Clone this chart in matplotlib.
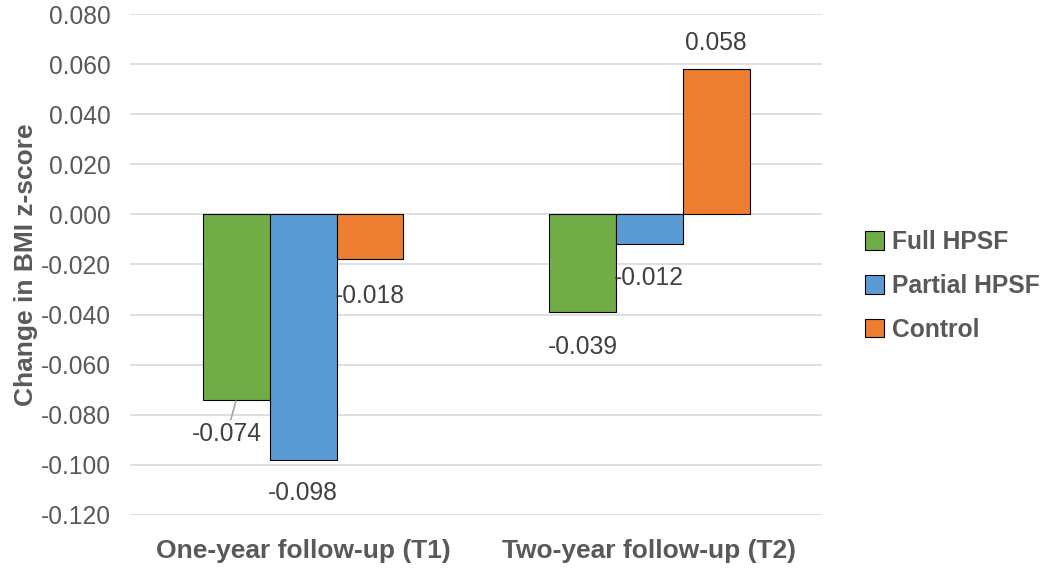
import matplotlib.pyplot as plt
import numpy as np

plt.rcParams["font.family"] = ["Liberation Sans", "DejaVu Sans"]

categories = ["One-year follow-up (T1)", "Two-year follow-up (T2)"]
groups = ["Full HPSF", "Partial HPSF", "Control"]
full_hpsf = [-0.074, -0.039]
partial_hpsf = [-0.098, -0.012]
control = [-0.018, 0.058]
yticks = np.arange(-0.12, 0.0801, 0.02)

series = [full_hpsf, partial_hpsf, control]
colors = ["#70ad47", "#5b9bd5", "#ed7d31"]
# label offsets (points) from the end of each bar
offsets = [[(-7, -25), (0, -25)], [(0, -24), (0, -24)], [(0, -26), (0, 19)]]

fig = plt.figure(figsize=(10.53, 5.74), dpi=100)
ax = fig.add_axes([0.1235, 0.1028, 0.6575, 0.8728])

x = np.arange(len(categories))
width = 0.193
for i, (vals, col, name) in enumerate(zip(series, colors, groups)):
    pos = x + (i - 1) * width
    ax.bar(pos, vals, width, color=col, edgecolor="black", linewidth=0.8,
           label=name, zorder=3)
    for j, v in enumerate(vals):
        dx, dy = offsets[i][j]
        arrow = None
        if i == 0 and j == 0:
            arrow = dict(arrowstyle="-", color="#a6a6a6", lw=1.2,
                         shrinkA=0, shrinkB=1)
        ax.annotate(f"{v:.3f}", xy=(pos[j], v), xytext=(dx, dy),
                    textcoords="offset points", ha="center", va="center",
                    fontsize=17.7, color="#404040", arrowprops=arrow)

ax.set_xlim(-0.5, 1.5)
ax.set_ylim(-0.12, 0.08)
ax.set_yticks(yticks)
ax.set_yticklabels([f"{t:.3f}" for t in yticks])
ax.set_xticks(x)
ax.set_xticklabels(categories, fontweight="bold", fontsize=19)
ax.tick_params(axis="both", length=0, colors="#595959")
ax.tick_params(axis="x", pad=17)
ax.tick_params(axis="y", pad=14, labelsize=17.7)
ax.grid(axis="y", color="#d9d9d9", linewidth=1.2, zorder=0)
for s in ax.spines.values():
    s.set_visible(False)

ax.set_ylabel("Change in BMI z-score", fontsize=19, fontweight="bold",
              color="#595959", labelpad=2)

leg = fig.legend(loc="center left", bbox_to_anchor=(0.80, 0.502),
                 frameon=False, handlelength=0.8, handleheight=0.8,
                 handletextpad=0.3, labelspacing=0.8,
                 prop=dict(size=17.7, weight="bold"))
for t in leg.get_texts():
    t.set_color("#595959")

fig.savefig("out.png", dpi=100)
